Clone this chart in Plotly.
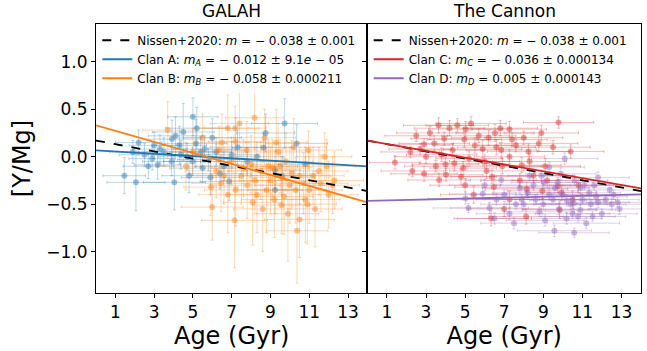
import plotly.graph_objects as go

# ---------------- data ----------------
# GALAH, Clan A (blue)
a_age = [1.46, 2.06, 4.04, 6.87, 9.73, 10.35, 8.75, 8.64, 9.24, 8.3, 3.92, 4.5, 4.3, 3.18, 4.38,
         5.15, 4.98, 5.5, 9.24, 2.5, 3.5, 2.9, 6.2, 5.8, 7.3, 6.6, 3.0, 4.8, 5.2, 1.9, 7.8, 9.6,
         10.8, 6.0, 5.6, 5.0, 3.3, 4.7, 5.4, 2.7, 3.9, 4.1, 6.4, 2.2, 5.9, 7.0]
a_val = [-0.20, -0.27, -0.27, -0.26, 0.35, 0.14, 0.25, 0.095, -0.14, 0.0, 0.185, 0.26, 0.12, -0.087, 0.02,
         0.14, -0.05, -0.12, -0.35, 0.02, 0.05, -0.02, 0.05, -0.03, 0.10, -0.10, 0.12, -0.20, 0.30, 0.05, -0.05, -0.20,
         -0.08, 0.20, 0.08, 0.42, 0.08, 0.00, 0.05, -0.10, -0.05, 0.22, -0.18, 0.15, -0.22, 0.02]
a_xerr = [1.1, 1.5, 1.6, 1.5, 1.7, 1.6, 1.5, 1.6, 1.3, 1.4, 1.5, 1.6, 1.4, 1.2, 1.5,
          1.6, 1.5, 1.7, 1.4, 1.3, 1.4, 1.2, 1.5, 1.6, 1.4, 1.5, 1.3, 1.4, 1.6, 1.2, 1.5, 1.6,
          1.4, 1.5, 1.6, 1.3, 1.4, 1.5, 1.6, 1.3, 1.5, 1.4, 1.6, 1.2, 1.5, 1.4]
a_yerr = [0.19, 0.30, 0.29, 0.20, 0.26, 0.20, 0.20, 0.15, 0.20, 0.15, 0.20, 0.30, 0.20, 0.15, 0.15,
          0.25, 0.15, 0.15, 0.25, 0.12, 0.15, 0.12, 0.15, 0.12, 0.18, 0.15, 0.14, 0.18, 0.22, 0.12, 0.15, 0.20,
          0.18, 0.20, 0.14, 0.20, 0.15, 0.14, 0.16, 0.13, 0.15, 0.20, 0.16, 0.13, 0.18, 0.14]

# GALAH, Clan B (orange)
b_age = [8.18, 7.18, 10.96, 7.2, 7.78, 3.7, 4.64, 6.8, 6.35, 7.15, 8.08, 10.37, 10.5, 9.58, 5.93,
         6.0, 6.45, 8.5, 9.0, 9.5, 10.0, 10.5, 11.0, 11.5, 8.8, 9.8, 7.5, 7.0, 6.5, 5.5,
         5.0, 10.2, 11.8, 12.3, 9.3, 8.3, 10.8, 9.9, 6.8, 7.8, 11.3, 12.0, 8.7, 7.4, 9.1,
         10.1, 8.0, 11.6, 6.2, 9.7, 9.6, 10.3, 8.9, 10.7, 11.2, 9.2, 8.6, 7.6, 10.9, 12.2,
         9.4, 8.2, 11.9, 7.2, 6.6]
b_val = [0.41, 0.30, 0.07, 0.16, 0.07, 0.28, -0.10, 0.30, 0.07, -0.67, -0.48, -0.78, -0.66, -0.51, -0.32,
         -0.53, -0.28, -0.15, -0.25, -0.10, -0.30, -0.20, -0.35, -0.15, -0.35, -0.05, -0.20, -0.05, 0.15, 0.20,
         0.05, 0.10, 0.00, -0.25, 0.15, -0.40, -0.45, -0.60, -0.40, -0.30, -0.55, -0.40, 0.20, 0.35, -0.12,
         -0.18, -0.08, -0.28, -0.15, -0.42, -0.22, -0.35, -0.10, -0.28, -0.20, -0.45, -0.55, -0.12, -0.50, -0.30,
         0.05, -0.25, -0.10, -0.35, -0.20]
b_xerr = [1.5, 1.6, 1.7, 1.4, 1.5, 1.3, 1.5, 1.6, 1.4, 1.7, 1.5, 1.6, 1.8, 1.5, 1.4,
          1.6, 1.5, 1.7, 1.6, 1.5, 1.8, 1.6, 1.7, 1.5, 1.6, 1.4, 1.5, 1.6, 1.4, 1.5,
          1.3, 1.7, 1.4, 1.5, 1.6, 1.5, 1.8, 1.6, 1.5, 1.7, 1.4, 1.5, 1.6, 1.5, 1.7,
          1.6, 1.5, 1.4, 1.6, 1.5, 1.7, 1.6, 1.5, 1.4, 1.6, 1.7, 1.5, 1.6, 1.5, 1.4,
          1.6, 1.7, 1.5, 1.6, 1.4]
b_yerr = [0.33, 0.23, 0.20, 0.25, 0.30, 0.30, 0.25, 0.35, 0.25, 0.50, 0.45, 0.55, 0.40, 0.30, 0.30,
          0.35, 0.30, 0.30, 0.35, 0.28, 0.40, 0.30, 0.35, 0.25, 0.45, 0.30, 0.30, 0.25, 0.30, 0.25,
          0.25, 0.30, 0.25, 0.30, 0.35, 0.40, 0.45, 0.50, 0.40, 0.35, 0.40, 0.35, 0.30, 0.35, 0.30,
          0.35, 0.30, 0.30, 0.28, 0.40, 0.30, 0.35, 0.28, 0.32, 0.30, 0.40, 0.45, 0.30, 0.42, 0.30,
          0.30, 0.35, 0.28, 0.38, 0.30]

# The Cannon, Clan C (red)
c_age = [3.64, 4.6, 5.03, 6.53, 3.93, 3.42, 2.9, 4.96, 4.36, 4.45, 5.9, 1.41, 2.9, 4.02, 4.79,
         6.37, 5.44, 6.33, 6.47, 3.67, 6.85, 9.78, 8.77, 9.5, 10.4, 8.24, 7.27, 7.27, 7.9, 7.27,
         8.12, 9.75, 9.93, 9.84, 8.15, 8.95, 2.2, 3.0, 5.5, 6.0, 6.9, 7.6, 5.2, 3.8, 2.5,
         6.2, 8.5, 9.2, 10.5, 7.0, 5.0, 2.3, 4.0, 10.8, 8.0, 6.8, 3.2, 4.2, 5.7, 6.6,
         7.4, 8.3, 4.9, 3.5, 6.1, 7.8, 9.1, 2.7, 5.3, 8.9]
c_val = [0.33, 0.33, 0.29, 0.25, 0.19, 0.14, 0.13, 0.18, 0.07, -0.07, 0.08, -0.06, -0.18, -0.19, -0.21,
         -0.21, -0.40, -0.65, -0.32, -0.245, 0.07, 0.36, 0.14, 0.10, 0.055, 0.055, 0.29, 0.00, -0.09, -0.45,
         -0.63, -0.31, -0.38, -0.56, -0.34, -0.36, 0.05, 0.00, 0.12, -0.05, -0.10, 0.12, -0.02, 0.02, 0.22,
         0.20, -0.20, -0.25, -0.45, -0.55, -0.30, -0.15, -0.08, -0.30, 0.20, 0.30, 0.25, 0.30, 0.22, 0.10,
         0.18, -0.05, -0.12, -0.10, -0.15, -0.25, -0.10, 0.08, 0.35, 0.25]
c_xerr = [1.8, 1.6, 1.9, 2.0, 1.7, 1.8, 1.5, 1.9, 1.6, 1.8, 2.0, 1.3, 1.7, 1.9, 1.8,
          2.1, 1.7, 1.9, 2.0, 1.6, 1.8, 1.8, 2.0, 1.9, 1.7, 2.1, 1.9, 1.8, 2.0, 1.7,
          1.9, 2.0, 1.8, 1.9, 2.1, 1.8, 1.5, 1.6, 1.9, 1.8, 2.0, 1.9, 1.7, 1.8, 1.6,
          1.9, 2.0, 1.8, 1.7, 1.9, 1.8, 1.6, 1.7, 1.8, 2.0, 1.9, 1.7, 1.8, 1.9, 2.0,
          1.8, 1.9, 1.7, 1.6, 1.9, 2.0, 1.8, 1.6, 1.8, 1.9]
c_yerr = [0.08, 0.07, 0.08, 0.09, 0.07, 0.08, 0.06, 0.08, 0.07, 0.08, 0.09, 0.07, 0.08, 0.07, 0.08,
          0.07, 0.09, 0.08, 0.08, 0.07, 0.08, 0.06, 0.08, 0.07, 0.07, 0.08, 0.08, 0.07, 0.08, 0.09,
          0.08, 0.07, 0.08, 0.09, 0.07, 0.08, 0.06, 0.07, 0.08, 0.07, 0.08, 0.07, 0.08, 0.07, 0.06,
          0.08, 0.07, 0.08, 0.09, 0.08, 0.07, 0.06, 0.07, 0.08, 0.07, 0.08, 0.07, 0.08, 0.07, 0.08,
          0.07, 0.08, 0.07, 0.06, 0.08, 0.07, 0.08, 0.06, 0.07, 0.08]

# The Cannon, Clan D (purple)
d_age = [10.1, 9.3, 11.8, 7.8, 9.75, 9.04, 10.55, 11.43, 11.35, 10.78, 11.52, 9.09, 10.19, 9.57, 10.58,
         7.27, 8.6, 10.9, 6.85, 5.9, 5.02, 5.17, 6.25, 7.0, 8.0, 8.5, 9.5, 10.0, 10.4, 11.0,
         11.8, 12.2, 12.5, 12.8, 9.8, 8.8, 7.5, 6.5, 12.0, 11.2, 8.3, 9.9, 11.6, 6.0, 10.6,
         12.4, 7.9, 8.2, 9.3, 10.2, 10.9, 11.7, 12.6, 9.0, 7.6, 8.9, 11.1, 12.9, 10.5, 6.6, 9.6]
d_val = [-0.02, -0.11, -0.22, -0.33, -0.27, -0.27, -0.49, -0.50, -0.38, -0.63, -0.63, -0.67, -0.65, -0.78, -0.80,
         -0.60, -0.45, -0.33, -0.245, -0.39, -0.44, -0.54, -0.54, -0.40, -0.50, -0.30, -0.45, -0.40, -0.50, -0.45,
         -0.48, -0.45, -0.50, -0.48, -0.55, -0.58, -0.70, -0.65, -0.60, -0.70, -0.20, -0.18, -0.30, -0.30, -0.25,
         -0.35, -0.45, -0.38, -0.40, -0.46, -0.56, -0.42, -0.40, -0.50, -0.50, -0.20, -0.30, -0.55, -0.60, -0.45, -0.33]
d_xerr = [1.7, 1.8, 1.6, 1.9, 1.8, 1.7, 1.9, 1.8, 1.6, 1.9, 1.7, 2.0, 1.8, 1.9, 1.8,
          1.7, 1.9, 1.6, 1.8, 1.7, 1.9, 1.8, 2.0, 1.7, 1.8, 1.9, 1.7, 1.8, 1.9, 1.7,
          1.6, 1.7, 1.8, 1.6, 1.9, 1.8, 1.7, 1.9, 1.8, 1.7, 1.9, 1.8, 1.6, 1.8, 1.7,
          1.6, 1.9, 1.8, 1.7, 1.9, 1.8, 1.6, 1.7, 1.9, 1.8, 1.7, 1.8, 1.6, 1.9, 1.8, 1.7]
d_yerr = [0.06, 0.05, 0.06, 0.06, 0.05, 0.06, 0.06, 0.05, 0.06, 0.06, 0.05, 0.06, 0.06, 0.06, 0.05,
          0.06, 0.05, 0.06, 0.05, 0.06, 0.06, 0.05, 0.06, 0.05, 0.06, 0.05, 0.06, 0.05, 0.06, 0.05,
          0.06, 0.05, 0.06, 0.05, 0.06, 0.05, 0.06, 0.06, 0.05, 0.06, 0.05, 0.06, 0.05, 0.06, 0.05,
          0.06, 0.05, 0.06, 0.05, 0.06, 0.05, 0.06, 0.05, 0.06, 0.05, 0.06, 0.05, 0.06, 0.05, 0.06, 0.05]

# fitted relations: [Y/Mg] = intercept + slope * age
fit_names = ["Nissen", "A", "B", "C", "D"]
fit_intercept = [0.17, 0.067, 0.33, 0.17, -0.466]
fit_slope = [-0.038, -0.012, -0.058, -0.036, 0.005]
age_span = [0, 14]

x_ticks = [1, 3, 5, 7, 9, 11, 13]
y_ticks = [-1.0, -0.5, 0.0, 0.5, 1.0]
y_ticktext = ["\u22121.0", "\u22120.5", "0.0", "0.5", "1.0"]

labels = {
    "Nissen": "Nissen+2020: <i>m</i> = \u2212 0.038 \u00b1 0.001",
    "A": "Clan A: <i>m<sub>A</sub></i> = \u2212 0.012 \u00b1 9.1<i>e</i> \u2212 05",
    "B": "Clan B: <i>m<sub>B</sub></i> = \u2212 0.058 \u00b1 0.000211",
    "C": "Clan C: <i>m<sub>C</sub></i> = \u2212 0.036 \u00b1 0.000134",
    "D": "Clan D: <i>m<sub>D</sub></i> = 0.005 \u00b1 0.000143",
}

COL = {"A": (31, 119, 180), "B": (255, 127, 14), "C": (214, 39, 40), "D": (148, 103, 189)}


def rgba(c, a):
    return "rgba(%d,%d,%d,%.2f)" % (c[0], c[1], c[2], a)


fig = go.Figure()


def add_points(age, val, xe, ye, key, xa, ya):
    c = COL[key]
    fig.add_trace(go.Scatter(
        x=age, y=val, mode="markers", xaxis=xa, yaxis=ya, showlegend=False,
        marker=dict(size=6, color=rgba(c, 0.45), line=dict(width=0)),
        error_x=dict(type="data", array=xe, color=rgba(c, 0.3), thickness=1, width=1.5),
        error_y=dict(type="data", array=ye, color=rgba(c, 0.3), thickness=1, width=1.5),
    ))


add_points(a_age, a_val, a_xerr, a_yerr, "A", "x", "y")
add_points(b_age, b_val, b_xerr, b_yerr, "B", "x", "y")
add_points(c_age, c_val, c_xerr, c_yerr, "C", "x2", "y2")
add_points(d_age, d_val, d_xerr, d_yerr, "D", "x2", "y2")


def add_fit(key, xa, ya, legend, color, dash):
    i = fit_names.index(key)
    yy = [fit_intercept[i] + fit_slope[i] * a for a in age_span]
    fig.add_trace(go.Scatter(
        x=age_span, y=yy, mode="lines", xaxis=xa, yaxis=ya, legend=legend,
        name=labels[key], line=dict(color=color, width=1.8, dash=dash),
    ))


add_fit("Nissen", "x", "y", "legend", "black", "dash")
add_fit("A", "x", "y", "legend", rgba(COL["A"], 1), "solid")
add_fit("B", "x", "y", "legend", rgba(COL["B"], 1), "solid")
add_fit("Nissen", "x2", "y2", "legend2", "black", "dash")
add_fit("C", "x2", "y2", "legend2", rgba(COL["C"], 1), "solid")
add_fit("D", "x2", "y2", "legend2", rgba(COL["D"], 1), "solid")

W, H = 647, 351
xl0, xl1, xr1 = 96 / W, 367.4 / W, 641 / W
yb, yt = 1 - 293 / H, 1 - 24 / H
FONT = "DejaVu Sans"

xcommon = dict(range=[0, 14], tickvals=x_ticks, ticks="outside", ticklen=4, tickwidth=1,
               tickcolor="black", showline=True, linecolor="black", linewidth=1, mirror=True,
               showgrid=False, zeroline=False, tickfont=dict(family=FONT, size=17, color="black"),
               title=dict(text="Age (Gyr)", font=dict(family=FONT, size=24, color="black"), standoff=2))
ycommon = dict(range=[-1.435, 1.397], tickvals=y_ticks, ticktext=y_ticktext, ticks="outside",
               ticklen=4, tickwidth=1, tickcolor="black", showline=True, linecolor="black",
               linewidth=1, mirror=True, showgrid=False, zeroline=False,
               tickfont=dict(family=FONT, size=17, color="black"))

legend_common = dict(yanchor="top", xanchor="left", bgcolor="rgba(255,255,255,0.8)",
                     borderwidth=0, font=dict(family=FONT, size=12, color="black"),
                     itemwidth=30, tracegroupgap=0, y=yt - 0.005)

fig.update_layout(
    width=W, height=H, margin=dict(l=0, r=0, t=0, b=0),
    paper_bgcolor="white", plot_bgcolor="white",
    xaxis=dict(domain=[xl0, xl1], anchor="y", **xcommon),
    xaxis2=dict(domain=[xl1, xr1], anchor="y2", **xcommon),
    yaxis=dict(domain=[yb, yt], anchor="x",
               title=dict(text="[Y/Mg]", font=dict(family=FONT, size=24, color="black"), standoff=8),
               **ycommon),
    yaxis2=dict(domain=[yb, yt], anchor="x2", showticklabels=False, **ycommon),
    legend=dict(x=xl0 + 0.002, **legend_common),
    legend2=dict(x=xl1 + 0.002, **legend_common),
    annotations=[
        dict(text="GALAH", x=(xl0 + xl1) / 2, y=yt, xref="paper", yref="paper",
             xanchor="center", yanchor="bottom", yshift=1, showarrow=False,
             font=dict(family=FONT, size=17, color="black")),
        dict(text="The Cannon", x=(xl1 + xr1) / 2, y=yt, xref="paper", yref="paper",
             xanchor="center", yanchor="bottom", yshift=1, showarrow=False,
             font=dict(family=FONT, size=17, color="black")),
    ],
)

fig.write_html("out.html")
